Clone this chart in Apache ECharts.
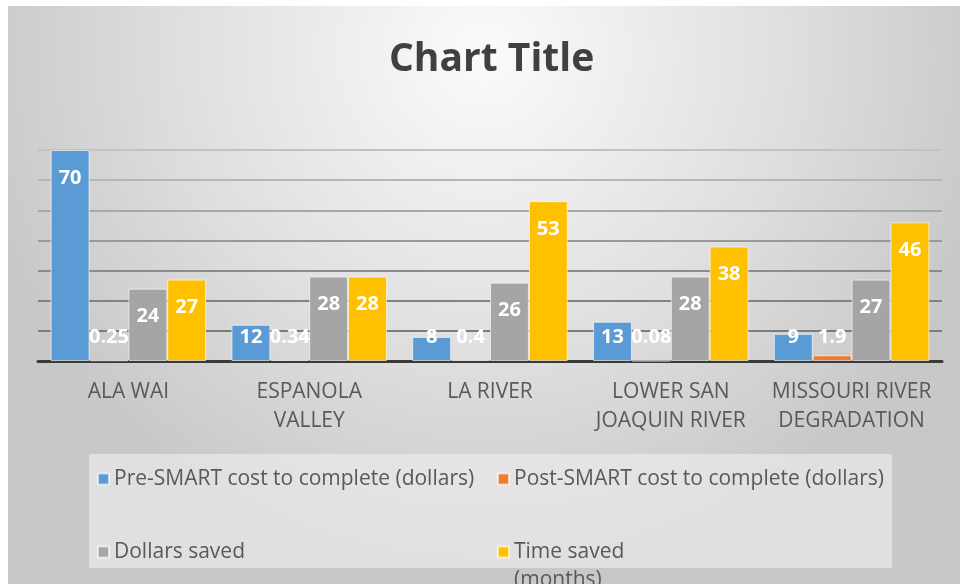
<!DOCTYPE html>
<html>
<head>
<meta charset="utf-8">
<script src="https://cdn.jsdelivr.net/npm/echarts@6/dist/echarts.min.js"></script>
<style>
  html, body { margin: 0; padding: 0; background: #fff; }
  #main { width: 960px; height: 584px; }
</style>
</head>
<body>
<div id="main"></div>
<script>
// chart data
const categories = ['ALA WAI', 'ESPANOLA\nVALLEY', 'LA RIVER', 'LOWER SAN\nJOAQUIN RIVER', 'MISSOURI RIVER\nDEGRADATION'];
const preSmart = [70, 12, 8, 13, 9];
const postSmart = [0.25, 0.34, 0.4, 0.08, 1.9];
const dollarsSaved = [24, 28, 26, 28, 27];
const timeSaved = [27, 28, 53, 38, 46];

const seriesNames = [
  'Pre-SMART cost to complete (dollars)',
  'Post-SMART cost to complete (dollars)',
  'Dollars saved',
  'Time saved (months)'
];
const colors = ['#5b9bd5', '#ed7d31', '#a5a5a5', '#ffc000'];

const FONT = '"Open Sans", sans-serif';

// small bars get their label pushed up from the axis, like excel does
function withLabels(values) {
  return values.map(v => {
    if (v < 17) {
      return { value: v, label: { position: 'insideBottom', distance: 14 } };
    }
    return v;
  });
}

function makeSeries(name, values, color) {
  return {
    name: name,
    type: 'bar',
    barGap: '0%',
    barCategoryGap: '14%',
    data: withLabels(values),
    itemStyle: { color: color, borderColor: 'rgba(255,255,255,0.6)', borderWidth: 1 },
    label: {
      show: true,
      position: 'insideTop',
      distance: 18,
      color: '#fff',
      fontSize: 20,
      fontWeight: 'bold',
      fontFamily: FONT
    }
  };
}

const myChart = echarts.init(document.getElementById('main'));

const legendText = { color: '#595959', fontSize: 21, fontFamily: FONT, lineHeight: 22 };

const option = {
  backgroundColor: '#fff',
  animation: false,
  color: colors,
  graphic: [
    {
      type: 'rect',
      z: -10,
      shape: { x: 8, y: 6, width: 952, height: 578 },
      style: {
        fill: {
          type: 'radial', x: 0.5, y: 0.08, r: 0.9,
          colorStops: [
            { offset: 0, color: '#fbfbfb' },
            { offset: 0.6, color: '#dedede' },
            { offset: 1, color: '#c8c8c8' }
          ]
        }
      }
    },
    {
      type: 'rect',
      z: -5,
      shape: { x: 89, y: 454, width: 803, height: 114 },
      style: { fill: 'rgba(240,240,240,0.6)' }
    }
  ],
  title: {
    text: 'Chart Title',
    left: 389,
    top: 40,
    padding: 0,
    textStyle: { color: '#404040', fontSize: 39, fontWeight: 'bold', fontFamily: FONT }
  },
  legend: [
    {
      orient: 'vertical',
      left: 97,
      top: 468,
      height: 300,
      padding: 0,
      itemGap: 51,
      itemWidth: 11,
      itemHeight: 11,
      icon: 'rect',
      selectedMode: false,
      textStyle: legendText,
      data: [seriesNames[0], seriesNames[2]]
    },
    {
      orient: 'vertical',
      left: 497,
      top: 468,
      height: 300,
      padding: 0,
      // the three-line item below is taller, so the gap is smaller to keep rows level
      itemGap: 20,
      itemWidth: 11,
      itemHeight: 11,
      icon: 'rect',
      selectedMode: false,
      textStyle: legendText,
      // wrap like excel: empty first line keeps "Time saved" level with the marker
      formatter: function (name) {
        return name === 'Time saved (months)' ? ' \nTime saved\n(months)' : name;
      },
      data: [
        seriesNames[1],
        { name: seriesNames[3], textStyle: { lineHeight: 28 } }
      ]
    }
  ],
  grid: { left: 38, right: 18, top: 150, bottom: 223, containLabel: false },
  xAxis: {
    type: 'category',
    data: categories,
    axisTick: { show: false },
    axisLine: { lineStyle: { color: '#3a3a3a', width: 3 } },
    axisLabel: {
      color: '#595959',
      fontSize: 21,
      fontFamily: FONT,
      lineHeight: 29,
      margin: 17,
      interval: 0
    }
  },
  yAxis: {
    type: 'value',
    min: 0,
    max: 70,
    interval: 10,
    axisLabel: { show: false },
    axisLine: { show: false },
    axisTick: { show: false },
    // lines fade out towards the top, as in the original picture
    splitLine: {
      lineStyle: {
        color: ['#777777', '#7c7c7c', '#828282', '#8c8c8c', '#999999', '#a8a8a8', '#b6b6b6', '#c2c2c2'],
        width: 2
      }
    }
  },
  series: [
    makeSeries(seriesNames[0], preSmart, colors[0]),
    makeSeries(seriesNames[1], postSmart, colors[1]),
    makeSeries(seriesNames[2], dollarsSaved, colors[2]),
    makeSeries(seriesNames[3], timeSaved, colors[3])
  ]
};

myChart.setOption(option);
</script>
</body>
</html>
